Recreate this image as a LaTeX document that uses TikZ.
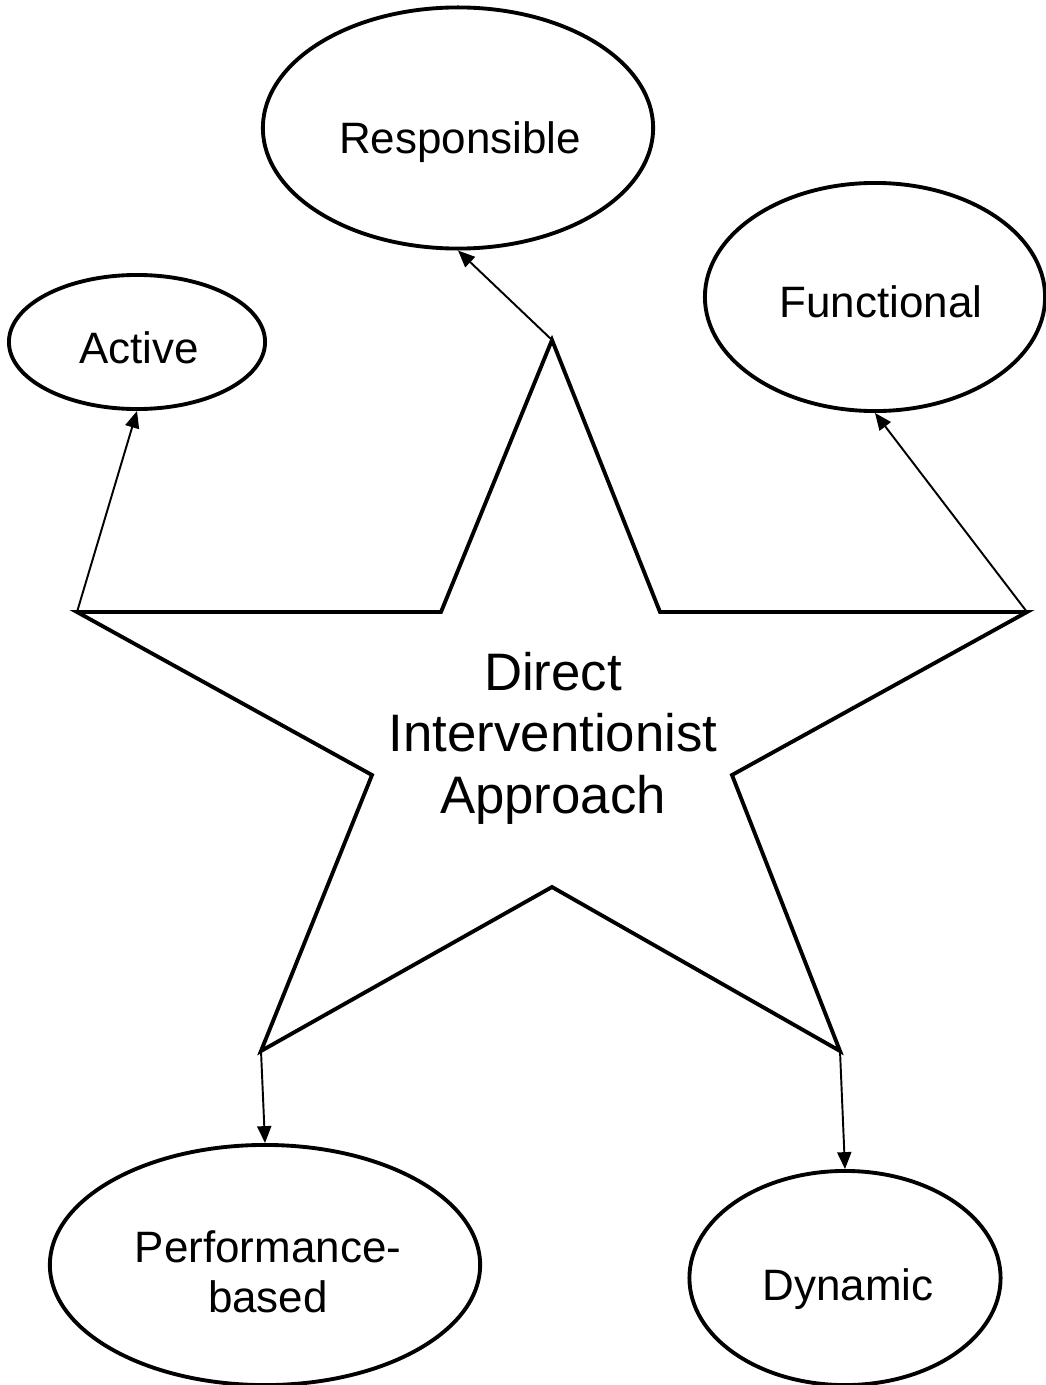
\documentclass[tikz,border=0pt]{standalone}
\usepackage{fontspec}
\setmainfont{Liberation Sans}
\usetikzlibrary{arrows.meta,shapes.geometric}

\begin{document}
\begin{tikzpicture}[
            x=0.01cm, y=-0.01cm,
            ovalo/.style={draw, ellipse, line width=1.1pt, inner sep=0pt},
            texto/.style={font=\fontsize{12.5}{14.2}\selectfont, align=center, anchor=base, inner sep=0pt},
            flecha/.style={-{Triangle[length=4.8pt,width=4pt]}, line width=0.55pt}
        ]
        \useasboundingbox (0,0) rectangle (1045,1385);

        % Puntas y vertices interiores de la estrella
        \coordinate (pArr) at (552,340);
        \coordinate (iArrIzq) at (441,612);
        \coordinate (pIzq) at (77,612);
        \coordinate (iIzq) at (372,775);
        \coordinate (pAbIzq) at (261,1051);
        \coordinate (iAb) at (552,887);
        \coordinate (pAbDer) at (840,1051);
        \coordinate (iDer) at (732,775);
        \coordinate (pDer) at (1027,612);
        \coordinate (iArrDer) at (660,612);

        % Estrella central
        \draw[line width=1.1pt] (pArr) -- (iArrDer) -- (pDer) -- (iDer) -- (pAbDer) -- (iAb)
            -- (pAbIzq) -- (iIzq) -- (pIzq) -- (iArrIzq) -- cycle;
        \node[font=\fontsize{15}{17.4}\selectfont, align=center, anchor=base, inner sep=0pt] (enfoque) at (553,813)
        {Direct\\Interventionist\\Approach};

        % Elipses alrededor
        \node[ovalo, minimum width=3.90cm, minimum height=2.41cm] (resp) at (458,128) {};
        \node[texto] (respT) at (460,153) {Responsible};

        \node[ovalo, minimum width=2.56cm, minimum height=1.34cm] (act) at (137,342) {};
        \node[texto] (actT) at (139,363) {Active};

        \node[ovalo, minimum width=3.40cm, minimum height=2.28cm] (func) at (875,297) {};
        \node[texto] (funcT) at (881,317) {Functional};

        \node[ovalo, minimum width=4.30cm, minimum height=2.40cm] (perf) at (265,1265) {};
        \node[texto] (perfT) at (268,1312) {Performance-\\based};

        \node[ovalo, minimum width=3.11cm, minimum height=2.14cm] (dyn) at (845,1278) {};
        \node[texto] (dynT) at (848,1300) {Dynamic};

        % Flechas desde las puntas
        \draw[flecha] (pArr) -- (resp.south);
        \draw[flecha] (pIzq) -- (act.south);
        \draw[flecha] (pDer) -- (func.south);
        \draw[flecha] (pAbIzq) -- (perf.north);
        \draw[flecha] (pAbDer) -- (dyn.north);

    \end{tikzpicture}
\end{document}
